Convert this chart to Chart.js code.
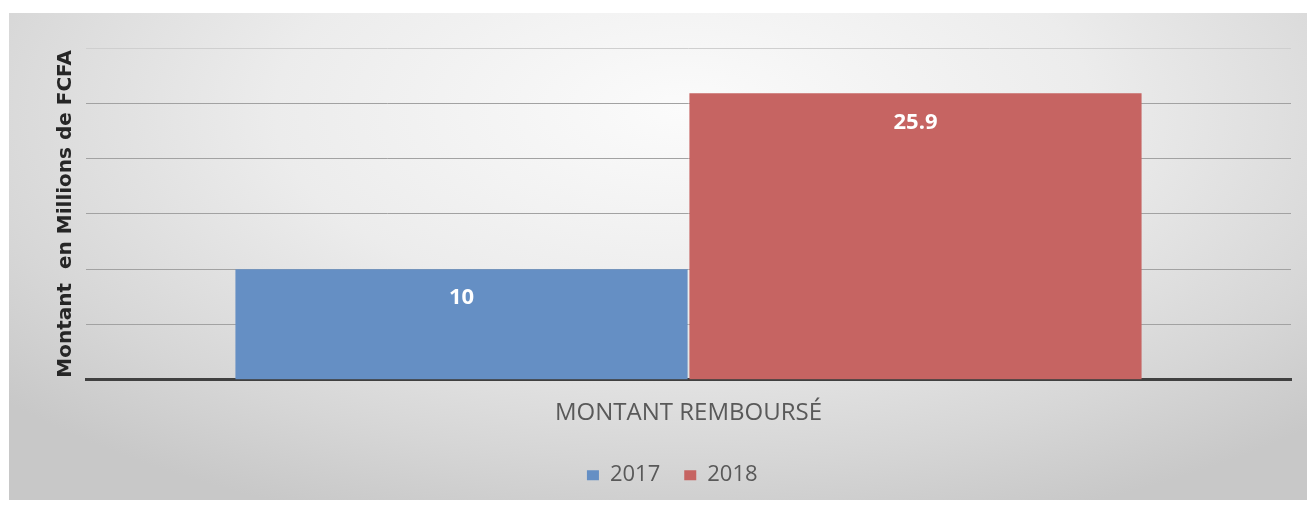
<!DOCTYPE html>
<html>
<head>
<meta charset="utf-8">
<script src="https://cdn.jsdelivr.net/npm/chart.js@4.4.1/dist/chart.umd.min.js"></script>
<style>
  html, body { margin: 0; padding: 0; background: #ffffff; }
  #bg {
    position: absolute; left: 9px; top: 13px; width: 1298px; height: 487px;
    background: radial-gradient(ellipse 70% 90% at 52% 20%, #fbfbfb 0%, #ececec 45%, #d6d6d6 80%, #c8c8c8 100%);
  }
  #wrap { position: absolute; left: 0; top: 0; width: 1312px; height: 506px; }
</style>
</head>
<body>
<div id="bg"></div>
<div id="wrap"><canvas id="c" width="1312" height="506"></canvas></div>
<script>
const categories = ["MONTANT REMBOURSÉ"];
const seriesNames = ["2017", "2018"];
const values2017 = [10];
const values2018 = [25.9];
const yTicks = [0, 5, 10, 15, 20, 25, 30];
const yTitle = "Montant  en Millions de FCFA";

const colors = ["#658FC4", "#C66462"];

const valueLabels = {
  id: 'valueLabels',
  afterDatasetsDraw(chart) {
    const ctx = chart.ctx;
    ctx.save();
    ctx.font = 'bold 22px "Open Sans"';
    ctx.fillStyle = '#ffffff';
    ctx.textAlign = 'center';
    ctx.textBaseline = 'middle';
    chart.data.datasets.forEach((ds, i) => {
      const meta = chart.getDatasetMeta(i);
      meta.data.forEach((el, j) => {
        ctx.fillText(String(ds.data[j]), el.x, el.y + 29);
      });
    });
    ctx.restore();
  }
};

new Chart(document.getElementById('c'), {
  type: 'bar',
  data: {
    labels: categories,
    datasets: [
      { label: seriesNames[0], data: values2017, backgroundColor: colors[0] },
      { label: seriesNames[1], data: values2018, backgroundColor: colors[1] }
    ]
  },
  options: {
    responsive: false,
    animation: false,
    categoryPercentage: 0.7535,
    barPercentage: 0.996,
    layout: { padding: { left: 53.5, right: 21, top: 48, bottom: 9.8 } },
    scales: {
      x: {
        grid: { display: false, drawTicks: false },
        border: { display: true, color: '#404040', width: 3 },
        ticks: { color: '#595959', font: { family: 'Open Sans', size: 24 }, padding: 19.5 },
        afterFit(scale) { scale.height = 60.5; }
      },
      y: {
        min: 0, max: 30,
        afterBuildTicks(scale) { scale.ticks = yTicks.map(v => ({ value: v })); },
        ticks: { display: false },
        grid: {
          drawTicks: false,
          color: (c) => (c.tick && c.tick.value === 30) ? '#cfcfcf' : '#a2a2a2',
          lineWidth: 1
        },
        border: { display: false },
        title: {
          display: true, text: yTitle, color: '#262626',
          font: { family: 'DejaVu Sans', size: 20, weight: 'bold' },
          padding: { top: 0, bottom: 8.5 }
        }
      }
    },
    plugins: {
      legend: {
        position: 'bottom',
        labels: {
          color: '#595959', font: { family: 'Open Sans', size: 22 },
          boxWidth: 12, boxHeight: 10, padding: 24
        }
      },
      tooltip: { enabled: false }
    }
  },
  plugins: [valueLabels]
});
</script>
</body>
</html>
